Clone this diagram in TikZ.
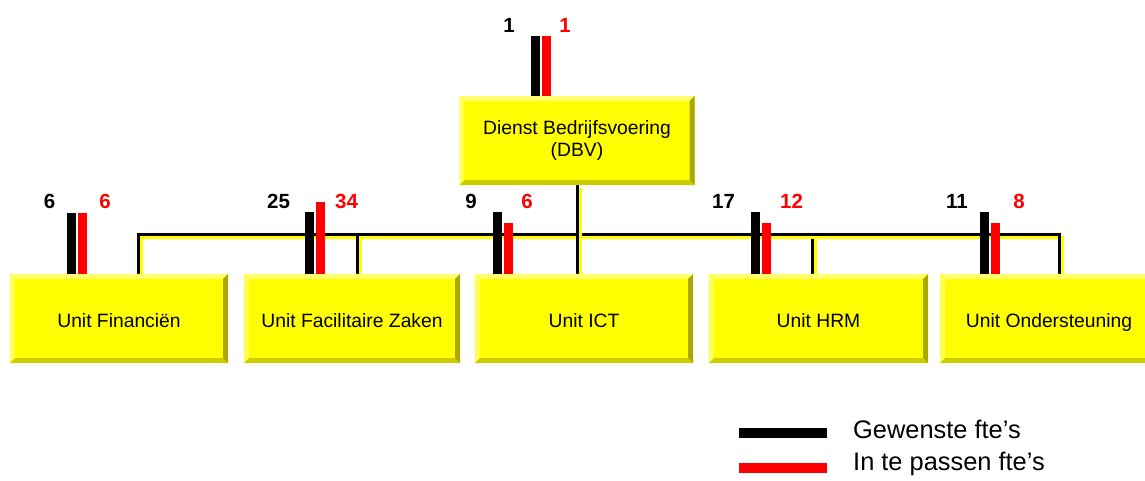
\documentclass[tikz,border=0pt]{standalone}
\usepackage{fontspec}
\setmainfont{Liberation Sans}
\usetikzlibrary{calc}
\definecolor{face}{HTML}{FFFF00}
\definecolor{bevtop}{HTML}{FFFF70}
\definecolor{bevleft}{HTML}{FFFF55}
\definecolor{bevbot}{HTML}{CCCC00}
\definecolor{bevright}{HTML}{A8A800}
\definecolor{fteRed}{HTML}{FF0000}
\pgfdeclarelayer{background}
\pgfsetlayers{background,main}
\tikzset{
 unitbox/.style={fill=face, draw=none, minimum width=218pt, minimum height=89pt, inner sep=0pt, font=\fontsize{19.3}{22}\selectfont, text height=19pt, text depth=2pt},
 dbvbox/.style={unitbox, text height=, text depth=, align=center},
 numblack/.style={font=\bfseries\fontsize{20.5}{24}\selectfont, anchor=base, text=black, inner sep=0pt},
 numred/.style={numblack, text=fteRed},
 connline/.style={line width=3pt, black},
 connshadow/.style={line width=3pt, face, transform canvas={xshift=3pt,yshift=-3pt}},
 legendtext/.style={font=\fontsize{25.4}{30}\selectfont, anchor=base west, inner sep=0pt},
}
\newcommand\bevel[1]{%
 \fill[bevtop] (#1.north west) -- (#1.north east) -- ([xshift=-5pt,yshift=-5pt]#1.north east) -- ([xshift=5pt,yshift=-5pt]#1.north west) -- cycle;
 \fill[bevleft] (#1.north west) -- ([xshift=5pt,yshift=-5pt]#1.north west) -- ([xshift=5pt,yshift=5pt]#1.south west) -- (#1.south west) -- cycle;
 \fill[bevbot] (#1.south west) -- ([xshift=5pt,yshift=5pt]#1.south west) -- ([xshift=-5pt,yshift=5pt]#1.south east) -- (#1.south east) -- cycle;
 \fill[bevright] (#1.north east) -- (#1.south east) -- ([xshift=-5pt,yshift=5pt]#1.south east) -- ([xshift=-5pt,yshift=-5pt]#1.north east) -- cycle;
}
\newcommand\conn[1]{\draw[connshadow] #1; \draw[connline] #1;}
\newcommand\ftebar[4]{\fill[#4] (#1,#2) rectangle ($(#1,#3)+(9,0)$);}
\begin{document}
\begin{tikzpicture}[x=1pt,y=-1pt]
\useasboundingbox (0,0) rectangle (1145,480);

% boxes
\node[dbvbox, minimum width=235pt] (dbv) at (577,140.5) {Dienst Bedrijfsvoering\\(DBV)};
\node[unitbox] (fin) at (119,318.5) {Unit Financiën};
\node[unitbox, minimum width=216pt] (fac) at (352,318.5) {Unit Facilitaire Zaken};
\node[unitbox] (ict) at (584,318.5) {Unit ICT};
\node[unitbox, minimum width=219pt] (hrm) at (818.5,318.5) {Unit HRM};
\node[unitbox] (ond) at (1049,318.5) {Unit Ondersteuning};
\bevel{dbv}\bevel{fin}\bevel{fac}\bevel{ict}\bevel{hrm}\bevel{ond}

% connectors
\begin{pgfonlayer}{background}
\conn{(dbv.south) -- ++(0,49) -| ([xshift=19pt]fin.north)}
\conn{(dbv.south) -- ++(0,49) -| ([xshift=5pt]fac.north)}
\conn{(dbv.south) -- ++(0,49) -| ([xshift=-6.5pt]hrm.north)}
\conn{(dbv.south) -- ++(0,49) -| ([xshift=10pt]ond.north)}
\conn{(dbv.south) -- (dbv.south |- ict.north)}
\end{pgfonlayer}

% bars
\ftebar{531}{36}{96}{black}  \ftebar{542}{36}{96}{fteRed}
\ftebar{67}{213}{274}{black} \ftebar{78}{213}{274}{fteRed}
\ftebar{305}{212}{274}{black} \ftebar{316}{202}{274}{fteRed}
\ftebar{493}{212}{274}{black} \ftebar{504}{223}{274}{fteRed}
\ftebar{751}{212}{274}{black} \ftebar{762}{223}{274}{fteRed}
\ftebar{980}{212}{274}{black} \ftebar{991}{223}{274}{fteRed}

% numbers
\node[numblack] (n1a) at (509,32) {1};   \node[numred] (n1b) at (565,32) {1};
\node[numblack] (n2a) at (49.5,208) {6}; \node[numred] (n2b) at (105,208) {6};
\node[numblack] (n3a) at (278.5,208) {25}; \node[numred] (n3b) at (346.5,208) {34};
\node[numblack] (n4a) at (471,208) {9};  \node[numred] (n4b) at (527,208) {6};
\node[numblack] (n5a) at (723.5,208) {17}; \node[numred] (n5b) at (791.5,208) {12};
\node[numblack] (n6a) at (957,208) {11}; \node[numred] (n6b) at (1019,208) {8};

% legend
\fill[black] (739,428) rectangle (827,438);
\fill[fteRed] (739,463) rectangle (827,473);
\node[legendtext] (lg1) at (853,438) {Gewenste fte’s};
\node[legendtext] (lg2) at (853,470) {In te passen fte’s};
\end{tikzpicture}
\end{document}
